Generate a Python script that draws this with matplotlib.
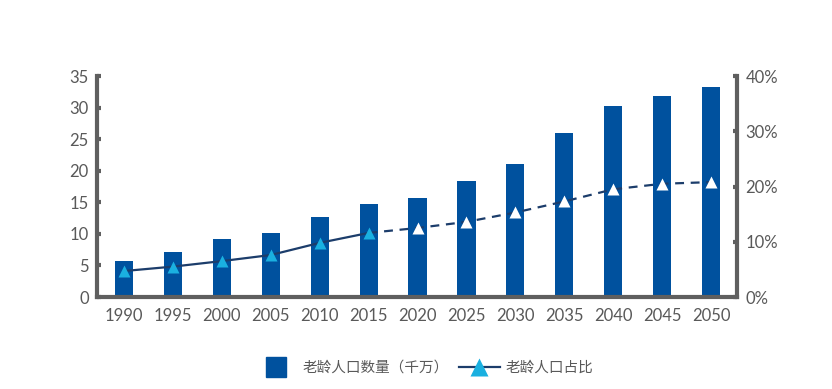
import matplotlib.pyplot as plt
import numpy as np
from matplotlib.lines import Line2D

plt.rcParams['font.family'] = ['Lato', 'Noto Sans CJK SC', 'DejaVu Sans']

years = ['1990', '1995', '2000', '2005', '2010', '2015', '2020',
         '2025', '2030', '2035', '2040', '2045', '2050']
# 老龄人口数量（千万）
elderly = [5.7, 7.2, 9.2, 10.2, 12.6, 14.7, 15.7, 18.4, 21.1, 25.9, 30.2, 31.8, 33.2]
# 老龄人口占比（%）
share = [4.7, 5.5, 6.5, 7.6, 9.8, 11.6, 12.5, 13.6, 15.3, 17.3, 19.5, 20.5, 20.8]
split = 5  # 2015以后为预测

bar_col = '#00519e'
line_col = '#1c3d6b'
tri_col = '#1ab0e0'
grey = '#5f5f5f'
txt = '#595959'

fig = plt.figure(figsize=(8.32, 3.89), dpi=100)
ax = fig.add_axes([0.1166, 0.2365, 0.7693, 0.568])
ax2 = ax.twinx()

x = np.arange(len(years))
ax.bar(x, elderly, width=0.37, color=bar_col, zorder=2)
ax.set_ylim(0, 35)
ax.set_xlim(-0.55, len(years) - 1 + 0.53)
ax.set_yticks(range(0, 36, 5))
ax.set_xticks(x)
ax.set_xticklabels(years)

ax2.plot(x[:split + 1], share[:split + 1], color=line_col, lw=1.6)
ax2.plot(x[split:], share[split:], color=line_col, lw=1.6, ls=(0, (4, 3)))
ax2.plot(x[:split + 1], share[:split + 1], ls='none', marker='^', ms=9,
         color=tri_col, mec='none')
ax2.plot(x[split + 1:], share[split + 1:], ls='none', marker='^', ms=9,
         color='white', mec='none')
ax2.set_ylim(0, 40)
ax2.set_yticks(range(0, 41, 10))
ax2.set_yticklabels([f'{v}%' for v in range(0, 41, 10)])

for a in (ax, ax2):
    a.spines['top'].set_visible(False)
    for s in ('left', 'right', 'bottom'):
        a.spines[s].set_color(grey)
        a.spines[s].set_linewidth(3)
    a.tick_params(colors=grey, labelcolor=txt, labelsize=12, width=3,
                  length=3, direction='in')
ax.spines['right'].set_visible(False)
ax2.spines['left'].set_visible(False)
ax2.spines['bottom'].set_visible(False)
ax.tick_params(axis='x', length=0, pad=8)
ax.tick_params(axis='y', pad=6)
ax2.tick_params(axis='y', pad=6)

handles = [Line2D([], [], ls='none', marker='s', ms=15, color=bar_col),
           Line2D([], [], color=line_col, lw=1.6, marker='^', ms=13,
                  mfc=tri_col, mec='none')]
fig.legend(handles, ['老龄人口数量（千万）', '老龄人口占比'], loc='center',
           bbox_to_anchor=(0.51, 0.055), ncol=2, frameon=False,
           fontsize=10.5, labelcolor=txt, handlelength=2.8, columnspacing=0.7,
           handletextpad=0.4)

fig.savefig('out.png', dpi=100, facecolor='white')
